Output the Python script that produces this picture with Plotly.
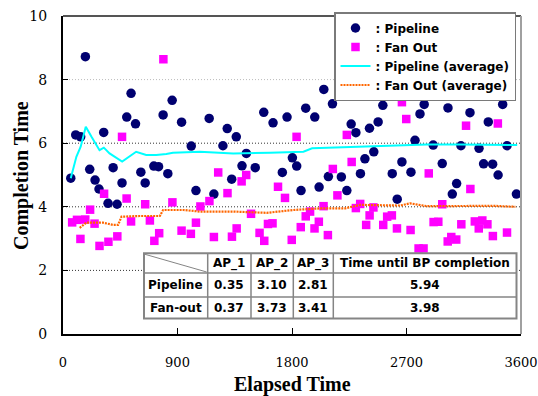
import plotly.graph_objects as go

# ---------------- data ----------------
pipe_t = [61,100,139,176,210,252,283,320,354,394,425,464,501,535,570,612,646,714,751,787,
          824,858,932,1008,1045,1149,1186,1257,1291,1326,1362,1407,1441,1511,1578,1651,1724,1761,1803,1837,
          1871,1908,1979,2013,2050,2086,2118,2188,2231,2265,2302,2338,2373,2409,2443,2477,2514,2548,2588,2627,
          2664,2735,2767,2806,2839,2910,2981,3026,3060,3094,3128,3199,3270,3306,3343,3377,3420,3456,3490,3564]
pipe_v = [4.90,6.26,6.20,8.72,5.18,4.84,4.56,6.34,4.11,5.23,4.08,4.75,6.82,7.57,6.61,5.09,4.75,5.28,5.26,6.89,
          5.04,7.35,6.66,5.91,4.51,6.78,4.40,5.92,6.46,4.87,6.20,5.29,5.68,5.23,6.97,6.64,5.08,6.82,5.54,5.28,
          4.51,7.10,6.82,4.62,7.69,4.95,7.24,4.94,4.51,6.60,6.33,5.04,5.51,6.47,5.73,6.67,7.19,7.69,5.04,4.24,
          5.41,5.09,6.09,6.92,7.22,5.94,5.36,7.11,4.40,4.73,5.92,6.96,5.84,5.35,6.67,5.34,5.00,7.22,5.92,4.40]

fan_t = [72,110,137,175,213,248,287,323,357,427,464,500,535,646,683,718,756,789,860,932,
         1005,1045,1080,1151,1186,1220,1293,1328,1365,1404,1440,1478,1545,1582,1611,1647,1690,1745,1798,1836,
         1869,1908,1942,1977,2011,2048,2082,2121,2157,2231,2269,2302,2336,2383,2410,2440,2517,2548,2585,2625,
         2664,2698,2732,2795,2834,2875,2913,2950,2981,3024,3052,3091,3131,3168,3202,3237,3268,3296,3336,3379,
         3418,3490]
fan_v = [3.51,3.59,2.99,3.60,3.91,3.47,2.77,4.41,2.90,3.07,6.20,4.26,3.54,4.08,3.57,2.93,3.17,8.64,4.14,3.25,
         3.15,3.50,4.01,4.18,3.05,5.08,4.43,3.06,3.32,4.80,5.00,3.78,3.18,2.93,3.46,3.48,4.63,4.28,2.96,6.20,
         3.36,3.70,3.85,3.32,3.53,4.02,3.11,5.19,4.36,6.26,5.41,3.96,4.09,3.43,3.73,3.98,3.43,3.69,3.73,3.32,
         7.29,6.76,3.27,2.69,2.69,5.05,3.52,3.53,4.08,2.91,3.05,2.97,3.45,6.55,4.56,3.54,3.32,3.57,3.45,3.08,
         6.62,3.19]

pavg_t = [61,105,139,179,224,287,321,366,465,575,654,733,812,864,1076,1338,1627,1890,1958,2336,
          2597,2861,3124,3386,3570]
pavg_v = [4.90,5.57,5.89,6.52,6.20,5.78,5.86,5.68,5.42,5.73,5.63,5.63,5.66,5.70,5.73,5.68,5.70,5.73,5.84,5.89,
          5.92,5.96,5.96,5.94,5.94]

favg_t = [131,184,315,394,433,460,604,761,787,945,1076,1338,1601,1811,2021,2218,2270,2336,2651,2729,
          2861,3124,3386,3556]
favg_v = [3.34,3.50,3.50,3.43,3.43,3.69,3.71,3.71,3.90,3.90,3.85,3.85,3.81,3.90,3.95,3.95,4.00,4.06,4.04,4.11,
          4.02,4.03,4.03,4.00]

x_ticks = [0, 900, 1800, 2700, 3600]
y_ticks = [0, 2, 4, 6, 8, 10]

tbl_cols = ["AP_1", "AP_2", "AP_3", "Time until BP completion"]
tbl_rows = ["Pipeline", "Fan-out"]
tbl_vals = [["0.35", "3.10", "2.81", "5.94"],
            ["0.37", "3.73", "3.41", "3.98"]]

# ---------------- layout helpers ----------------
W, H = 538, 396
L, R, T, B = 63, 521, 16, 334


def px(xp):
    return (xp - L) / (R - L)


def py(yp):
    return (B - yp) / (B - T)


SANS = "DejaVu Sans"
SERIF = "Liberation Serif"
TICKF = "DejaVu Serif"

fig = go.Figure()
fig.add_trace(go.Scatter(x=pipe_t, y=pipe_v, mode="markers", name=": Pipeline",
                         marker=dict(symbol="circle", size=9.5, color="#000070")))
fig.add_trace(go.Scatter(x=fan_t, y=fan_v, mode="markers", name=": Fan Out",
                         marker=dict(symbol="square", size=8.5, color="#FF00FF")))
fig.add_trace(go.Scatter(x=pavg_t, y=pavg_v, mode="lines", name=": Pipeline (average)",
                         line=dict(color="#00FFFF", width=2)))
fig.add_trace(go.Scatter(x=favg_t, y=favg_v, mode="lines", name=": Fan Out (average)",
                         line=dict(color="#FF6600", width=2.2, dash="2px,1px")))

shapes = []
# grid lines
for g in y_ticks[1:-1]:
    shapes.append(dict(type="line", xref="paper", yref="y", x0=0, x1=1, y0=g, y1=g,
                       line=dict(color="#bbbbbb" if g == 8 else "#333333", width=1, dash="1px,2px"),
                       layer="below"))
# frame top / right
shapes.append(dict(type="line", xref="paper", yref="paper", x0=0, x1=1, y0=1, y1=1,
                   line=dict(color="#555555", width=2), layer="above"))
shapes.append(dict(type="line", xref="paper", yref="paper", x0=1, x1=1, y0=0, y1=1,
                   line=dict(color="#a0a0a0", width=2), layer="above"))

# table
col_px = [144, 207.7, 251, 293.3, 333.3, 516.5]
row_px = [253.3, 273.0, 297.0, 318.5]
grey = "#858585"
shapes.append(dict(type="rect", xref="paper", yref="paper",
                   x0=px(col_px[0]), x1=px(col_px[-1]), y0=py(row_px[-1]), y1=py(row_px[0]),
                   fillcolor="white", line=dict(color=grey, width=2), layer="above"))
for c in col_px[1:-1]:
    shapes.append(dict(type="line", xref="paper", yref="paper", x0=px(c), x1=px(c),
                       y0=py(row_px[-1]), y1=py(row_px[0]), line=dict(color=grey, width=1.5), layer="above"))
for r in row_px[1:-1]:
    shapes.append(dict(type="line", xref="paper", yref="paper", x0=px(col_px[0]), x1=px(col_px[-1]),
                       y0=py(r), y1=py(r), line=dict(color=grey, width=1.5), layer="above"))
shapes.append(dict(type="line", xref="paper", yref="paper", x0=px(col_px[0] + 1), x1=px(col_px[1] - 1),
                   y0=py(row_px[0] + 1), y1=py(row_px[1] - 1), line=dict(color=grey, width=1), layer="above"))

annos = []
tfont = dict(family=SANS, size=12, color="black", weight="bold")
for j, name in enumerate(tbl_cols):
    annos.append(dict(xref="paper", yref="paper", x=px((col_px[j + 1] + col_px[j + 2]) / 2),
                      y=py((row_px[0] + row_px[1]) / 2), text=name, showarrow=False,
                      font=tfont, xanchor="center", yanchor="middle"))
for i, rname in enumerate(tbl_rows):
    yc = py((row_px[i + 1] + row_px[i + 2]) / 2)
    annos.append(dict(xref="paper", yref="paper", x=px((col_px[0] + col_px[1]) / 2), y=yc,
                      text=rname, showarrow=False, font=tfont, xanchor="center", yanchor="middle"))
    for j, v in enumerate(tbl_vals[i]):
        annos.append(dict(xref="paper", yref="paper", x=px((col_px[j + 1] + col_px[j + 2]) / 2), y=yc,
                          text=v, showarrow=False, font=tfont, xanchor="center", yanchor="middle"))

# axis titles
annos.append(dict(xref="paper", yref="paper", x=px(292), y=py(384), text="Elapsed Time", showarrow=False,
                  font=dict(family=SERIF, size=20, color="black", weight="bold"),
                  xanchor="center", yanchor="middle"))
annos.append(dict(xref="paper", yref="paper", x=px(21), y=py(176), text="Completion Time", showarrow=False,
                  textangle=-90, font=dict(family=SERIF, size=20, color="black", weight="bold"),
                  xanchor="center", yanchor="middle"))

fig.update_layout(
    width=W, height=H,
    margin=dict(l=L, r=W - R, t=T, b=H - B, pad=0, autoexpand=False),
    paper_bgcolor="white", plot_bgcolor="white",
    shapes=shapes, annotations=annos,
    showlegend=True,
    legend=dict(x=px(516), y=py(12), xanchor="right", yanchor="top",
                bgcolor="white", bordercolor="#7a7a7a", borderwidth=1.5,
                font=dict(family=SANS, size=12, color="black", weight="bold"),
                itemwidth=30, tracegroupgap=0),
    xaxis=dict(range=[0, 3600], tickvals=x_ticks, ticks="inside", ticklen=6, tickcolor="black",
               showgrid=False, zeroline=False, showline=True, linecolor="black", linewidth=2,
               tickfont=dict(family=TICKF, size=13, color="black"), ticklabelstandoff=15,
               ticklabeloverflow="allow", automargin=False),
    yaxis=dict(range=[0, 10], tickvals=y_ticks, ticks="inside", ticklen=5, tickcolor="black",
               showgrid=False, zeroline=False, showline=True, linecolor="black", linewidth=2,
               tickfont=dict(family=TICKF, size=14, color="black"), ticklabelstandoff=11,
               automargin=False),
)

fig.write_html("out.html", config={"displayModeBar": False},
               post_script="document.body.style.margin='0';document.body.style.overflow='hidden';")
